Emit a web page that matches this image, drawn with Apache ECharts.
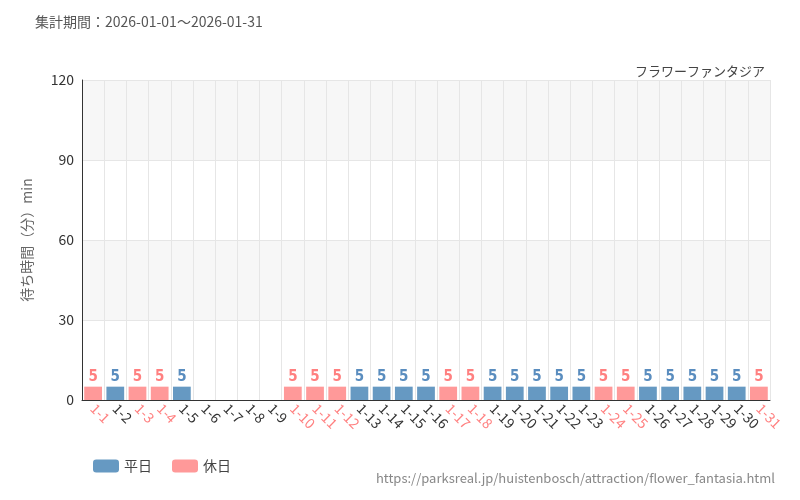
<!DOCTYPE html>
<html><head><meta charset="utf-8">
<script src="https://cdn.jsdelivr.net/npm/echarts@6/dist/echarts.min.js"></script>
<style>html,body{margin:0;background:#fff}#chart{width:800px;height:500px}</style>
</head><body><div id="chart"></div>
<script>
const days = [];
for (let d = 1; d <= 31; d++) days.push('1-' + d);
const holidays = ['1-1','1-3','1-4','1-10','1-11','1-12','1-17','1-18','1-24','1-25','1-31'];
const waits = [5,5,5,5,5,null,null,null,null,5,5,5,5,5,5,5,5,5,5,5,5,5,5,5,5,5,5,5,5,5,5];

const weekdayData = days.map((d, i) => holidays.includes(d) ? null : waits[i]);
const holidayData = days.map((d, i) => holidays.includes(d) ? waits[i] : null);

const chart = echarts.init(document.getElementById('chart'));
const font = '"Noto Sans CJK JP", "Noto Sans", sans-serif';
const barLabel = (color) => ({ show: true, position: 'top', distance: 2, color, fontSize: 15, fontWeight: 'bold', fontFamily: '"Liberation Sans Narrow", "DejaVu Sans Condensed", sans-serif' });

chart.setOption({
  animation: false,
  textStyle: { fontFamily: font },
  title: [
    { text: '集計期間：2026-01-01～2026-01-31', left: 30, top: 10, textStyle: { fontSize: 14, fontWeight: 'normal', color: '#555' } },
    { text: 'フラワーファンタジア', right: 30, top: 60, textStyle: { fontSize: 13, fontWeight: 'normal', color: '#444' } },
    { text: 'https://parksreal.jp/huistenbosch/attraction/flower_fantasia.html', right: 20, bottom: 10, textStyle: { fontSize: 13, fontWeight: 'normal', color: '#888' } }
  ],
  legend: {
    left: 88, bottom: 22, itemWidth: 26, itemHeight: 13, itemGap: 20,
    textStyle: { fontSize: 14, color: '#444' },
    data: ['平日', '休日']
  },
  grid: { left: 82, right: 30, top: 80, bottom: 100 },
  xAxis: {
    type: 'category', data: days,
    axisTick: { show: false },
    axisLine: { lineStyle: { color: '#333' } },
    splitLine: { show: true, lineStyle: { color: '#e6e6e6' } },
    axisLabel: {
      interval: 0, rotate: -45, fontSize: 14, margin: 6,
      color: (v) => holidays.includes(v) ? '#ff8080' : '#333'
    }
  },
  yAxis: {
    type: 'value', min: 0, max: 120, interval: 30,
    name: '待ち時間（分）min', nameLocation: 'middle', nameGap: 48,
    nameTextStyle: { fontSize: 14, color: '#666' },
    axisLine: { show: true, lineStyle: { color: '#333' } },
    axisLabel: { fontSize: 14, color: '#333' },
    splitLine: { lineStyle: { color: '#e6e6e6' } },
    splitArea: { show: true, areaStyle: { color: ['#ffffff', '#f7f7f7'] } }
  },
  series: [
    { name: '平日', type: 'bar', stack: 'w', data: weekdayData, barWidth: '80%',
      itemStyle: { color: '#6699c2' }, label: barLabel('#5a8dbf') },
    { name: '休日', type: 'bar', stack: 'w', data: holidayData, barWidth: '80%',
      itemStyle: { color: '#ff9999' }, label: barLabel('#ff8080') }
  ]
});
</script></body></html>
